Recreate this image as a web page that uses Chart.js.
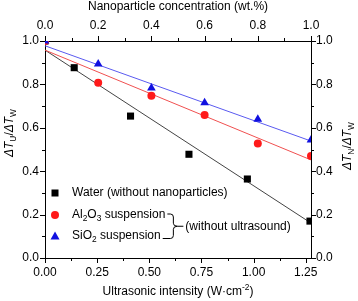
<!DOCTYPE html>
<html>
<head>
<meta charset="utf-8">
<script src="https://cdn.jsdelivr.net/npm/chart.js@4.4.1/dist/chart.umd.min.js"></script>
<style>
  html, body { margin: 0; padding: 0; background: #fff; }
  #wrap { width: 358px; height: 301px; }
</style>
</head>
<body>
<div id="wrap"><canvas id="chart" width="358" height="301"></canvas></div>
<script>
// Water: plotted against ultrasonic intensity (bottom axis)
const waterX = [0, 0.14, 0.41, 0.69, 0.97, 1.27];
const waterY = [1.0, 0.877, 0.654, 0.478, 0.364, 0.17];
// Suspensions: plotted against nanoparticle concentration (top axis)
const concX = [0, 0.2, 0.4, 0.6, 0.8, 1.0];
const al2o3Y = [1.0, 0.808, 0.748, 0.659, 0.528, 0.47];
const sio2Y = [1.0, 0.894, 0.783, 0.716, 0.639, 0.544];
// fit line end points
const waterFitX = [0, 1.275];
const waterFitY = [0.958, 0.161];
const al2o3FitX = [0, 1.0];
const al2o3FitY = [0.958, 0.452];
const sio2FitX = [0, 1.0];
const sio2FitY = [0.978, 0.539];
// tick labels
const intensityTicks = [0, 0.25, 0.5, 0.75, 1.0, 1.25];
const concTicks = [0, 0.2, 0.4, 0.6, 0.8, 1.0];
const ratioTicks = [0, 0.2, 0.4, 0.6, 0.8, 1.0];

const FONT = 'Arial, "Liberation Sans", sans-serif';
const pts = (xs, ys) => xs.map((x, i) => ({ x: x, y: ys[i] }));

// draw text made of pieces: [text, kind] with kind '', 'i', 'sub', 'sup'
function richWidth(ctx, parts, size) {
  let w = 0;
  parts.forEach(([t, k]) => {
    const s = (k === 'sub' || k === 'sup') ? size * 0.7 : size;
    ctx.font = (k === 'i' ? 'italic ' : '') + s + 'px ' + FONT;
    w += ctx.measureText(t).width;
  });
  return w;
}
function drawRich(ctx, parts, x, y, size) {
  let cx = x;
  ctx.textBaseline = 'middle';
  ctx.textAlign = 'left';
  parts.forEach(([t, k]) => {
    const small = (k === 'sub' || k === 'sup');
    const s = small ? size * 0.7 : size;
    ctx.font = (k === 'i' ? 'italic ' : '') + s + 'px ' + FONT;
    let dy = 0;
    if (k === 'sub') dy = size * 0.32;
    if (k === 'sup') dy = -size * 0.38;
    ctx.fillText(t, cx, y + dy);
    cx += ctx.measureText(t).width;
  });
  return cx;
}
function drawRichCentered(ctx, parts, x, y, size, rot) {
  const w = richWidth(ctx, parts, size);
  ctx.save();
  ctx.translate(x, y);
  if (rot) ctx.rotate(rot);
  drawRich(ctx, parts, -w / 2, 0, size);
  ctx.restore();
}

const frame = {
  id: 'frame',
  afterDraw(chart) {
    const ctx = chart.ctx;
    const a = chart.chartArea;
    ctx.save();
    ctx.strokeStyle = '#000';
    ctx.lineWidth = 1;
    // major and minor tick marks, pointing outwards
    ['x', 'x2', 'y', 'y2'].forEach(id => {
      const s = chart.scales[id];
      const vals = s.ticks.map(t => t.value);
      const minors = [];
      for (let i = 0; i < vals.length - 1; i++) minors.push((vals[i] + vals[i + 1]) / 2);
      const mark = (v, len) => {
        const p = Math.round(s.getPixelForValue(v)) + 0.5;
        ctx.beginPath();
        if (id === 'x') { ctx.moveTo(p, a.bottom); ctx.lineTo(p, a.bottom + len); }
        if (id === 'x2') { ctx.moveTo(p, a.top); ctx.lineTo(p, a.top - len); }
        if (id === 'y') { ctx.moveTo(a.left, p); ctx.lineTo(a.left - len, p); }
        if (id === 'y2') { ctx.moveTo(a.right, p); ctx.lineTo(a.right + len, p); }
        ctx.stroke();
      };
      vals.forEach(v => mark(v, 5));
      minors.forEach(v => mark(v, 3));
    });

    ctx.fillStyle = '#000';
    // top axis labels
    const top = chart.scales.x2;
    ctx.font = '12px ' + FONT;
    ctx.textAlign = 'center';
    ctx.textBaseline = 'middle';
    top.ticks.forEach(t => ctx.fillText(t.value.toFixed(1), top.getPixelForValue(t.value), 26));

    // axis titles
    const cx = (a.left + a.right) / 2;
    drawRichCentered(ctx, [['Nanoparticle concentration (wt.%)', '']], cx, 7, 12);
    drawRichCentered(ctx, [['Ultrasonic intensity (W\u00b7cm', ''], ['-2', 'sup'], [')', '']], cx, 292, 12);
    drawRichCentered(ctx, [['\u0394T', 'i'], ['U', 'sub'], ['/', ''], ['\u0394T', 'i'], ['W', 'sub']], 10, 133, 12, -Math.PI / 2);
    drawRichCentered(ctx, [['\u0394T', 'i'], ['N', 'sub'], ['/', ''], ['\u0394T', 'i'], ['W', 'sub']], 348, 146, 12, -Math.PI / 2);

    // legend
    const mx = 55, tx = 72;
    const rows = [193, 215, 236];
    ctx.fillStyle = '#000';
    ctx.fillRect(mx - 3.5, rows[0] - 3.5, 7, 7);
    ctx.fillStyle = '#ff1a1a';
    ctx.beginPath(); ctx.arc(mx, rows[1], 4, 0, Math.PI * 2); ctx.fill();
    ctx.fillStyle = '#1010e0';
    ctx.beginPath();
    ctx.moveTo(mx, rows[2] - 4.5); ctx.lineTo(mx + 4.5, rows[2] + 3.5); ctx.lineTo(mx - 4.5, rows[2] + 3.5);
    ctx.closePath(); ctx.fill();

    ctx.fillStyle = '#000';
    drawRich(ctx, [['Water (without nanoparticles)', '']], tx, rows[0], 12);
    const e1 = drawRich(ctx, [['Al', ''], ['2', 'sub'], ['O', ''], ['3', 'sub'], [' suspension', '']], tx, rows[1], 12);
    const e2 = drawRich(ctx, [['SiO', ''], ['2', 'sub'], [' suspension', '']], tx, rows[2], 12);

    // brace grouping the two suspensions
    const xb = e1 + 8;
    const yt = rows[1] - 1, yb = rows[2] + 2.5, ym = (yt + yb) / 2;
    ctx.strokeStyle = '#000';
    ctx.beginPath();
    ctx.moveTo(e1 + 2, yt);
    ctx.lineTo(xb - 3, yt);
    ctx.quadraticCurveTo(xb, yt, xb, yt + 3);
    ctx.lineTo(xb, ym - 3);
    ctx.quadraticCurveTo(xb, ym, xb + 4, ym);
    ctx.quadraticCurveTo(xb, ym, xb, ym + 3);
    ctx.lineTo(xb, yb - 3);
    ctx.quadraticCurveTo(xb, yb, xb - 3, yb);
    ctx.lineTo(e2 + 2, yb);
    ctx.moveTo(xb + 4, ym);
    ctx.lineTo(xb + 10, ym);
    ctx.stroke();
    drawRich(ctx, [['(without ultrasound)', '']], xb + 12, ym, 12);
    ctx.restore();
  }
};

const tickFont = { family: FONT, size: 12 };
const axisBase = {
  type: 'linear',
  grid: { display: false, drawTicks: false },
  border: { display: true, color: '#000', width: 1 },
};

new Chart(document.getElementById('chart'), {
  type: 'scatter',
  data: {
    datasets: [
      { label: 'SiO2 suspension', data: pts(concX, sio2Y), xAxisID: 'x2', yAxisID: 'y',
        pointStyle: 'triangle', pointRadius: 5, backgroundColor: '#1010e0', borderColor: '#1010e0', borderWidth: 0, clip: 0 },
      { label: 'Al2O3 suspension', data: pts(concX, al2o3Y), xAxisID: 'x2', yAxisID: 'y',
        pointStyle: 'circle', pointRadius: 4, backgroundColor: '#ff1a1a', borderColor: '#ff1a1a', borderWidth: 0, clip: 0 },
      { label: 'Water (without nanoparticles)', data: pts(waterX, waterY), xAxisID: 'x', yAxisID: 'y',
        pointStyle: 'rect', pointRadius: 5, backgroundColor: '#000', borderColor: '#000', borderWidth: 0, clip: 0 },
      { label: 'SiO2 fit', data: pts(sio2FitX, sio2FitY), xAxisID: 'x2', yAxisID: 'y',
        showLine: true, pointRadius: 0, borderColor: '#5a5af0', borderWidth: 1, clip: 0 },
      { label: 'Al2O3 fit', data: pts(al2o3FitX, al2o3FitY), xAxisID: 'x2', yAxisID: 'y',
        showLine: true, pointRadius: 0, borderColor: '#f05050', borderWidth: 1, clip: 0 },
      { label: 'Water fit', data: pts(waterFitX, waterFitY), xAxisID: 'x', yAxisID: 'y',
        showLine: true, pointRadius: 0, borderColor: '#444', borderWidth: 1, clip: 0 }
    ]
  },
  options: {
    responsive: false,
    devicePixelRatio: 1,
    animation: false,
    layout: { padding: 0 },
    plugins: { legend: { display: false }, tooltip: { enabled: false } },
    scales: {
      x: Object.assign({}, axisBase, {
        position: 'bottom', min: 0, max: 1.275,
        afterBuildTicks: s => { s.ticks = intensityTicks.map(v => ({ value: v })); },
        afterFit: s => { s.height = 43; },
        ticks: { color: '#000', font: tickFont, padding: 7, maxRotation: 0, autoSkip: false,
          callback: v => v.toFixed(2) }
      }),
      x2: Object.assign({}, axisBase, {
        position: 'top', min: 0, max: 1.0,
        afterBuildTicks: s => { s.ticks = concTicks.map(v => ({ value: v })); },
        afterFit: s => { s.height = 41; },
        ticks: { display: false }
      }),
      y: Object.assign({}, axisBase, {
        position: 'left', min: 0, max: 1.0,
        afterBuildTicks: s => { s.ticks = ratioTicks.map(v => ({ value: v })); },
        afterFit: s => { s.width = 45; },
        ticks: { color: '#000', font: tickFont, padding: 6, autoSkip: false,
          callback: v => v.toFixed(1) }
      }),
      y2: Object.assign({}, axisBase, {
        position: 'right', min: 0, max: 1.0,
        afterBuildTicks: s => { s.ticks = ratioTicks.map(v => ({ value: v })); },
        afterFit: s => { s.width = 47; },
        ticks: { color: '#000', font: tickFont, padding: 5, autoSkip: false,
          callback: v => v.toFixed(1) }
      })
    }
  },
  plugins: [frame]
});
</script>
</body>
</html>
